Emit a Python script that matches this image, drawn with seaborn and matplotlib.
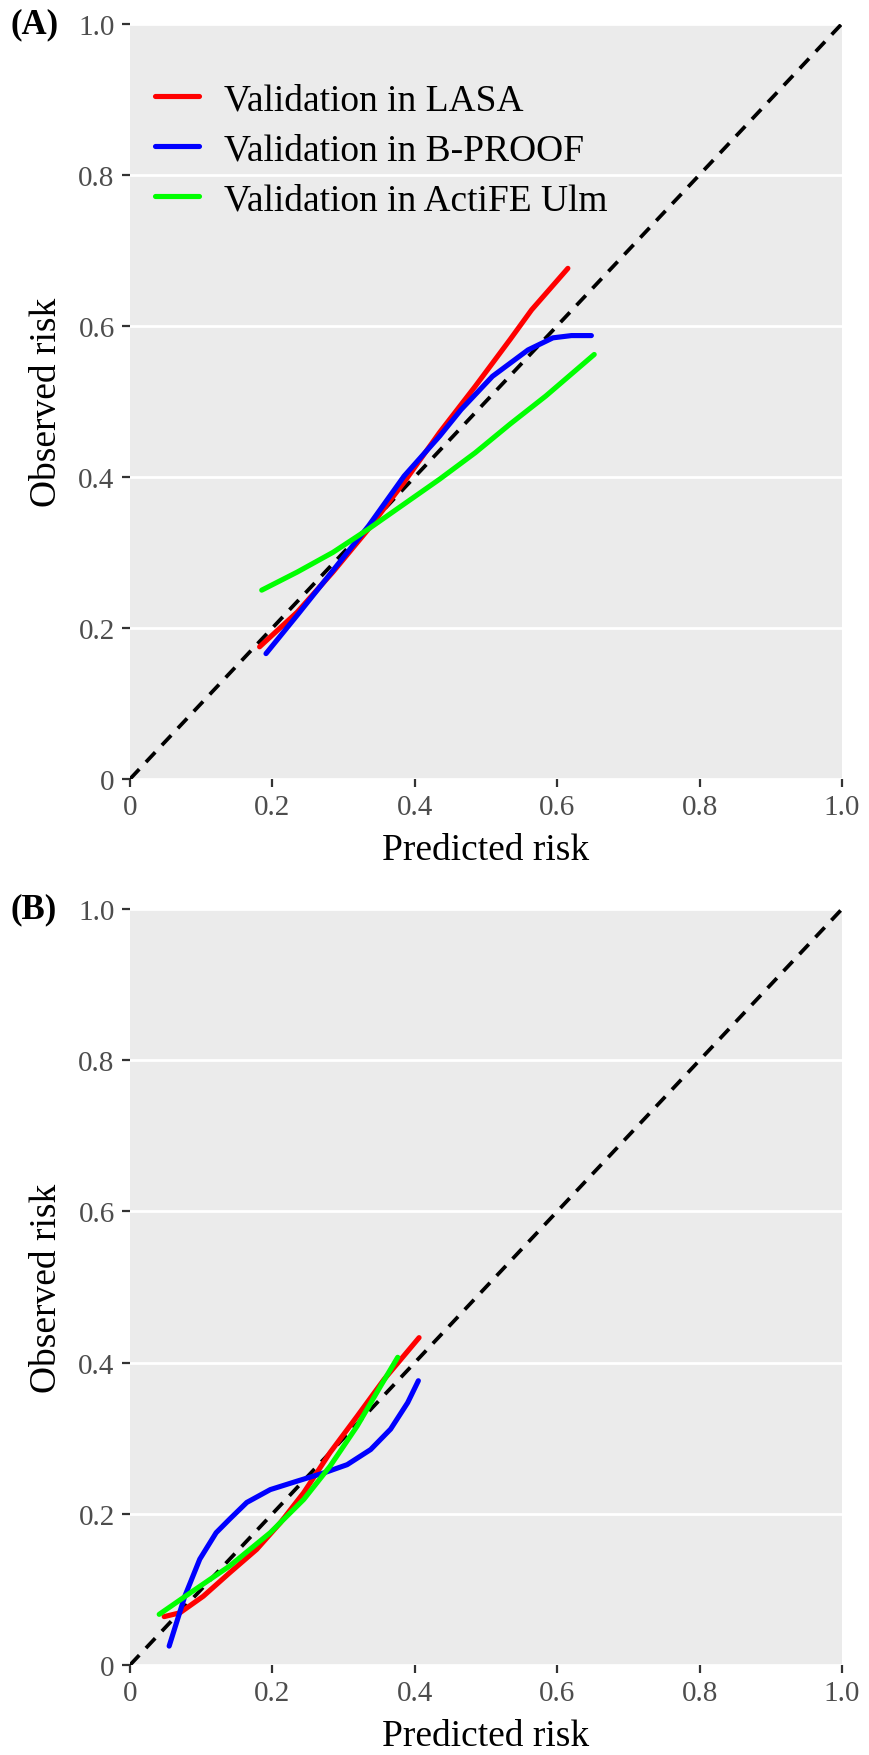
import numpy as np
import pandas as pd
import matplotlib
matplotlib.use("Agg")
import matplotlib.pyplot as plt
import seaborn as sns

# ---------------- data ----------------
series_names = ["Validation in LASA", "Validation in B-PROOF", "Validation in ActiFE Ulm"]
series_colors = ["#FF0000", "#0000FF", "#00FF00"]

# Panel A
a_lasa_x = [0.182, 0.235, 0.285, 0.335, 0.385, 0.435, 0.485, 0.534, 0.564, 0.615]
a_lasa_y = [0.175, 0.221, 0.274, 0.331, 0.393, 0.459, 0.520, 0.582, 0.621, 0.676]
a_bproof_x = [0.191, 0.235, 0.285, 0.335, 0.385, 0.435, 0.465, 0.509, 0.559, 0.594, 0.620, 0.648]
a_bproof_y = [0.166, 0.217, 0.276, 0.335, 0.401, 0.454, 0.489, 0.533, 0.568, 0.584, 0.587, 0.587]
a_actife_x = [0.185, 0.235, 0.285, 0.335, 0.385, 0.435, 0.485, 0.534, 0.584, 0.652]
a_actife_y = [0.250, 0.274, 0.300, 0.331, 0.364, 0.397, 0.432, 0.470, 0.507, 0.562]

# Panel B
b_lasa_x = [0.048, 0.070, 0.103, 0.140, 0.178, 0.211, 0.244, 0.281, 0.319, 0.357, 0.406]
b_lasa_y = [0.064, 0.069, 0.091, 0.122, 0.153, 0.188, 0.228, 0.281, 0.329, 0.378, 0.433]
b_bproof_x = [0.055, 0.077, 0.098, 0.121, 0.140, 0.164, 0.197, 0.234, 0.272, 0.305, 0.338, 0.366, 0.390, 0.405]
b_bproof_y = [0.025, 0.091, 0.140, 0.175, 0.193, 0.215, 0.232, 0.243, 0.254, 0.265, 0.285, 0.312, 0.347, 0.376]
b_actife_x = [0.041, 0.084, 0.140, 0.197, 0.244, 0.281, 0.319, 0.352, 0.376]
b_actife_y = [0.067, 0.095, 0.131, 0.175, 0.219, 0.263, 0.316, 0.369, 0.407]

tick_values = [0, 0.2, 0.4, 0.6, 0.8, 1.0]
tick_labels = ["0", "0.2", "0.4", "0.6", "0.8", "1.0"]
identity = [0, 1]

def make_df(lx, ly, bx, by, ax_, ay):
    rows = []
    for name, xs, ys in zip(series_names, [lx, bx, ax_], [ly, by, ay]):
        for x, y in zip(xs, ys):
            rows.append({"pred": x, "obs": y, "series": name})
    return pd.DataFrame(rows)

df_a = make_df(a_lasa_x, a_lasa_y, a_bproof_x, a_bproof_y, a_actife_x, a_actife_y)
df_b = make_df(b_lasa_x, b_lasa_y, b_bproof_x, b_bproof_y, b_actife_x, b_actife_y)

# ---------------- style ----------------
sns.set_theme(style="darkgrid")
plt.rcParams["font.family"] = ["Liberation Serif", "DejaVu Serif"]
plt.rcParams["text.color"] = "black"

W, H = 869, 1756
fig = plt.figure(figsize=(W / 100, H / 100), dpi=100)
fig.patch.set_facecolor("white")

left = 130 / W
width = (842 - 130) / W
panels = [
    (df_a, 24.6, 780, "(A)", True),
    (df_b, 910, 1666, "(B)", False),
]
palette = dict(zip(series_names, series_colors))

for df, top_px, bot_px, tag, show_legend in panels:
    ax = fig.add_axes([left, 1 - bot_px / H, width, (bot_px - top_px) / H])
    ax.set_facecolor("#EBEBEB")
    ax.plot(identity, identity, color="black", linestyle=(0, (3.6, 2.6)), linewidth=2.7, zorder=2)
    sns.lineplot(data=df, x="pred", y="obs", hue="series", palette=palette,
                 hue_order=series_names, sort=False, estimator=None, units="series",
                 linewidth=3.7, ax=ax, zorder=3, legend=show_legend)
    ax.set_xlim(0, 1)
    ax.set_ylim(0, 1)
    ax.set_xticks(tick_values)
    ax.set_xticklabels(tick_labels)
    ax.set_yticks(tick_values)
    ax.set_yticklabels(tick_labels)
    ax.grid(axis="y", color="white", linewidth=2.0)
    ax.grid(axis="x", visible=False)
    for s in ax.spines.values():
        s.set_visible(False)
    ax.tick_params(axis="both", which="major", length=6, width=1.6, color="#333333",
                   labelsize=21, labelcolor="#4D4D4D", direction="out", pad=5,
                   bottom=True, left=True)
    ax.set_xlabel("Predicted risk", fontsize=27, color="black", labelpad=9)
    ax.set_ylabel("Observed risk", fontsize=27, color="black", labelpad=10)
    fig.text(11 / W, 1 - top_px / H, tag, fontsize=25, fontweight="bold",
             ha="left", va="center", color="black")
    if show_legend:
        leg = ax.legend(loc="upper left", bbox_to_anchor=(0.035, 0.922), frameon=False,
                        fontsize=27, handlelength=1.17, handletextpad=0.67,
                        labelspacing=0.42, borderpad=0, borderaxespad=0, title=None)
        for text in leg.get_texts():
            text.set_color("black")
        for line in leg.get_lines():
            line.set_linewidth(3.7)

fig.savefig("out.png", dpi=100)
